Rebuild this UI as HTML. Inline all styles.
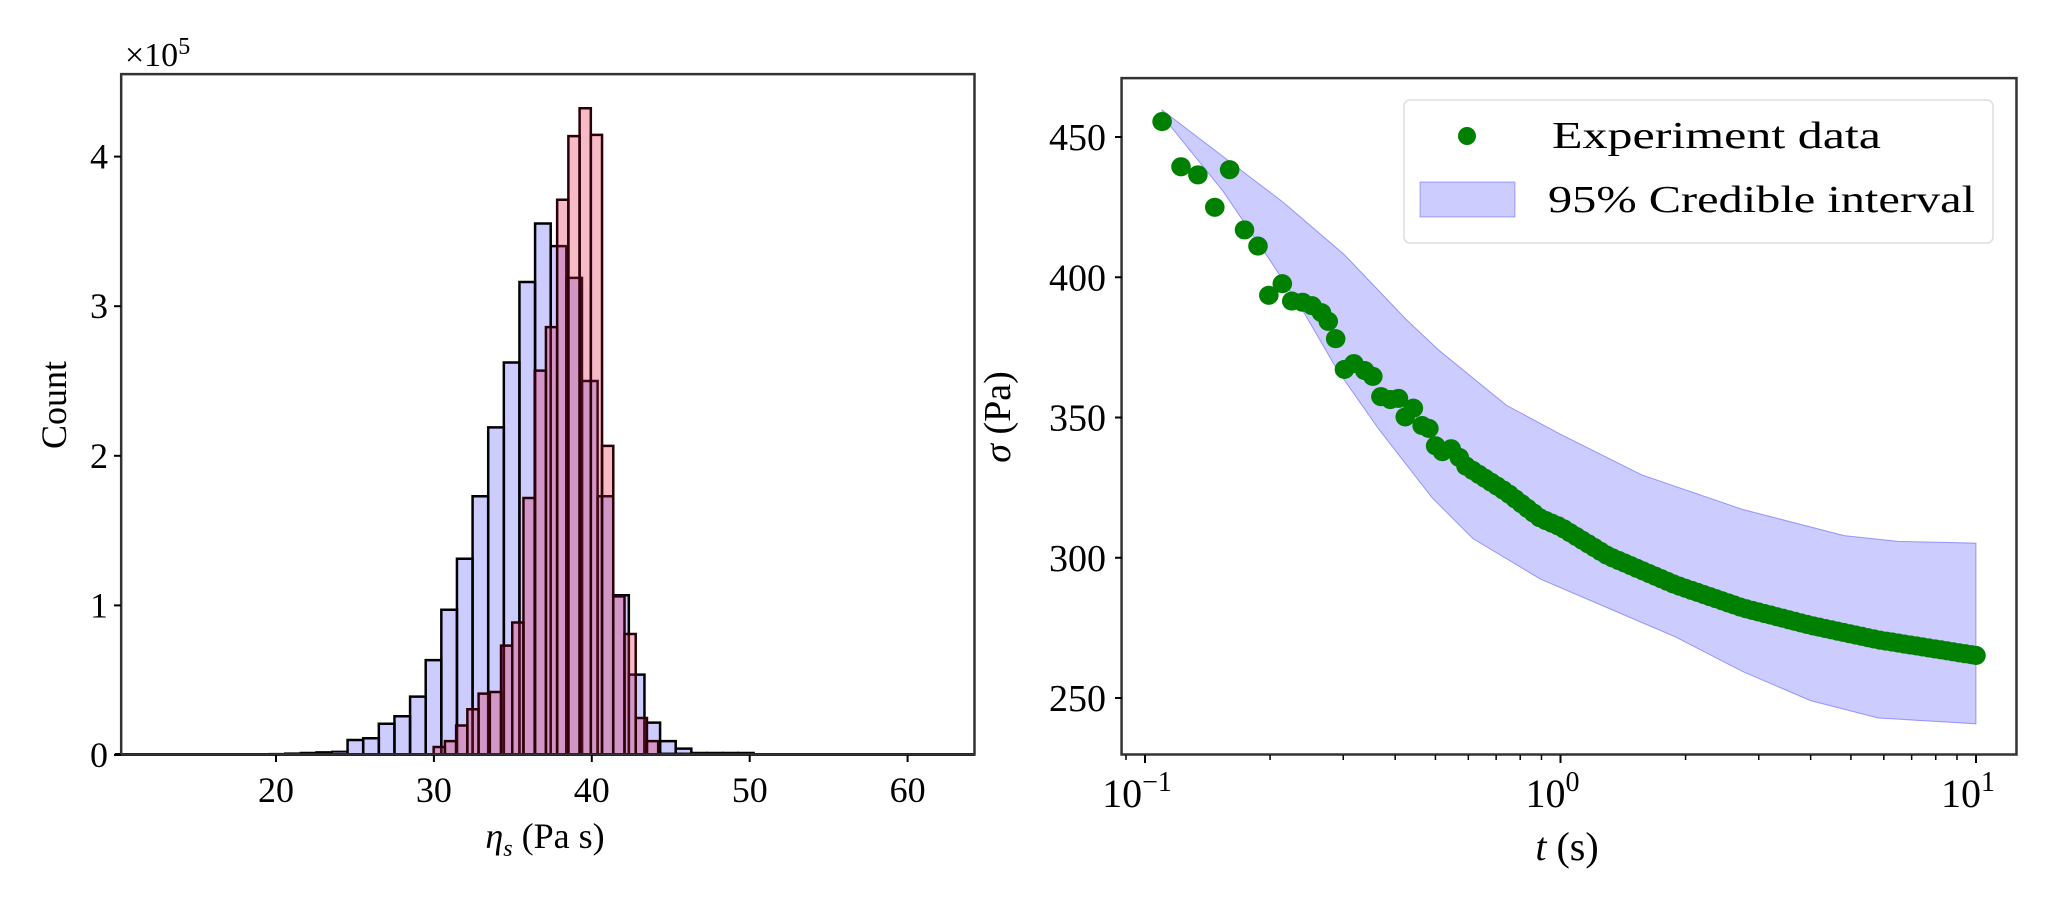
<!DOCTYPE html>
<html><head><meta charset="utf-8"><style>
html,body{margin:0;padding:0;background:#fff;}
svg{display:block;font-family:"Liberation Serif",serif;}
</style></head><body>
<svg id="s" width="2059" height="908" viewBox="0 0 2059 908" xmlns="http://www.w3.org/2000/svg">
<rect width="2059" height="908" fill="#fff"/>
<g id="L" transform="scale(0.63776,0.57903)"></g>
<g id="R" transform="translate(1000,0) scale(0.67540,0.57903)"></g>
<g id="T"></g>
</svg>
<script>
var NS="http://www.w3.org/2000/svg";
function el(p,t,a,txt){var e=document.createElementNS(NS,t);for(var k in a)e.setAttribute(k,a[k]);if(txt!=null)e.textContent=txt;p.appendChild(e);return e;}
var L=document.getElementById('L'),R=document.getElementById('R'),T=document.getElementById('T');
var base=1303;
var blue=[1278,1275,1250,1237,1203,1140,1053,965,857,738,626,487,386,425,480,658,857,1028,1165,1248,1280,1293];
var bx0=545,bw=24.5;
for(var i=1;i<=5;i++){el(L,'rect',{x:bx0-i*bw,y:base-Math.max(1,6-i),width:bw,height:Math.max(1,6-i),fill:'#ccccfc',stroke:'#000','stroke-width':2,'vector-effect':'non-scaling-stroke'});}
for(var i=0;i<blue.length;i++){el(L,'rect',{x:bx0+i*bw,y:blue[i],width:bw,height:base-blue[i],fill:'rgba(0,0,255,0.2)',stroke:'#000','stroke-width':2.5,'vector-effect':'non-scaling-stroke'});}
for(var i=0;i<4;i++){el(L,'rect',{x:bx0+(blue.length+i)*bw,y:base-3,width:bw,height:3,fill:'#ccccfc',stroke:'#000','stroke-width':2,'vector-effect':'non-scaling-stroke'});}
var red=[1290,1280,1253,1225,1198,1195,1115,1075,860,640,565,345,235,187,233,770,1030,1095,1240,1280];
var rx0=680,rw=17.6;
for(var i=0;i<red.length;i++){el(L,'rect',{x:rx0+i*rw,y:red[i],width:rw,height:base-red[i],fill:'rgba(225,30,70,0.3)',stroke:'#2a0008','stroke-width':2.5,'vector-effect':'non-scaling-stroke'});}
for(var i=0;i<4;i++){el(L,'rect',{x:rx0+(red.length+i)*rw,y:base-2,width:rw,height:2,fill:'#fcc',stroke:'#000','stroke-width':1.5,'vector-effect':'non-scaling-stroke'});}
el(L,'line',{x1:180,y1:base,x2:1528,y2:base,stroke:'#000','stroke-width':3,'vector-effect':'non-scaling-stroke'});
el(L,'rect',{x:190,y:128,width:1338,height:1175,fill:'none',stroke:'#333','stroke-width':2.5,'vector-effect':'non-scaling-stroke'});
for(var v=0;v<=4;v++){var y=755-v*149.6;el(T,'line',{x1:114,y1:y,x2:121,y2:y,stroke:'#000','stroke-width':2});el(T,'text',{x:108,y:y+12,'font-size':36,'text-anchor':'end'},String(v));}
for(var v=20;v<=60;v+=10){var x=276+(v-20)*15.79;el(T,'line',{x1:x,y1:755,x2:x,y2:762,stroke:'#000','stroke-width':2});el(T,'text',{x:x,y:802,'font-size':36,'text-anchor':'middle'},String(v));}
el(T,'text',{x:0,y:0,'font-size':36,'text-anchor':'middle',transform:'translate(66,405) rotate(-90)'},'Count');
var t1=el(T,'text',{x:125,y:66,'font-size':34});t1.innerHTML='×10<tspan dy="-12" font-size="24">5</tspan>';
var t2=el(T,'text',{x:545,y:848,'font-size':36,'text-anchor':'middle'});t2.innerHTML='<tspan font-style="italic">η</tspan><tspan font-style="italic" font-size="24" dy="8">s</tspan><tspan dy="-8"> (Pa s)</tspan>';
var up=[[240,190],[330,270],[420,350],[510,440],[600,550],[650,605],[750,700],[830,750],[950,820],[1100,880],[1250,925],[1330,935],[1445,938]];
var lo=[[240,200],[330,330],[400,450],[450,540],[500,640],[560,740],[640,860],[700,930],[800,1000],[900,1050],[1000,1100],[1100,1160],[1200,1210],[1300,1240],[1445,1250]];
var d='M'+up.map(function(p){return p.join(',')}).join(' L')+' L'+lo.slice().reverse().map(function(p){return p.join(',')}).join(' L')+' Z';
el(R,'path',{d:d,fill:'rgba(0,0,255,0.2)',stroke:'rgba(0,0,255,0.35)','stroke-width':1,'vector-effect':'non-scaling-stroke'});
var pts=[[240,210],[268,288],[293,302],[318,358],[340,293],[362,397],[382,425],[398,510],[418,490],[432,520],[448,522],[462,528],[476,540],[486,555],[497,585],[510,638],[524,628],[540,640],[552,650],[564,685],[578,690],[590,688],[600,720],[612,705],[625,735],[635,740],[645,770],[655,780],[668,775],[680,790],[690,805]];
var cur=[[690,805],[750,850],[800,895],[830,910],[900,960],[1000,1010],[1100,1050],[1200,1080],[1300,1105],[1445,1132]];
function interp(x){for(var i=0;i<cur.length-1;i++){if(x<=cur[i+1][0]){var f=(x-cur[i][0])/(cur[i+1][0]-cur[i][0]);return cur[i][1]+f*(cur[i+1][1]-cur[i][1]);}}return cur[cur.length-1][1];}
for(var x=700;x<=1445;x+=9){pts.push([x,interp(x)]);}
pts.push([1445,1132]);
pts.forEach(function(p){el(R,'ellipse',{cx:p[0],cy:p[1],rx:14.5,ry:16.5,fill:'#008000'});});
el(R,'rect',{x:180,y:135,width:1325,height:1168,fill:'none',stroke:'#333','stroke-width':2.5,'vector-effect':'non-scaling-stroke'});
for(var v=250;v<=450;v+=50){var y=698-(v-250)*2.805;el(T,'line',{x1:1115,y1:y,x2:1122,y2:y,stroke:'#000','stroke-width':2});el(T,'text',{x:1106,y:y+13,'font-size':38,'text-anchor':'end'},String(v));}
var dec=415.5,x10=1145;
for(var e=-1;e<=1;e++){var x=x10+(e+1)*dec;el(T,'line',{x1:x,y1:755,x2:x,y2:763,stroke:'#000','stroke-width':2});var tt=el(T,'text',{x:x-8,y:807,'font-size':40,'text-anchor':'middle'});tt.innerHTML='10<tspan dy="-16" font-size="28">'+(e<0?'−1':String(e))+'</tspan>';
if(e<1)for(var m=2;m<=9;m++){var xm=x+Math.log10(m)*dec;el(T,'line',{x1:xm,y1:755,x2:xm,y2:760,stroke:'#000','stroke-width':1.5});}}
var xm9=x10-dec+Math.log10(9)*dec;el(T,'line',{x1:xm9,y1:755,x2:xm9,y2:760,stroke:'#000','stroke-width':1.5});
var t3=el(T,'text',{x:1567,y:860,'font-size':40,'text-anchor':'middle'});t3.innerHTML='<tspan font-style="italic">t</tspan> (s)';
var t4=el(T,'text',{x:0,y:0,'font-size':38,'text-anchor':'middle',transform:'translate(1010,417) rotate(-90)'});t4.innerHTML='<tspan font-style="italic">σ</tspan> (Pa)';
el(T,'rect',{x:1404,y:100,width:589,height:143,rx:6,fill:'#fff','fill-opacity':0.85,stroke:'#ddd','stroke-width':1.5});
el(T,'circle',{cx:1467,cy:136,r:9,fill:'#008000'});
el(T,'text',{x:1552,y:148,'font-size':38,textLength:329,lengthAdjust:'spacingAndGlyphs'},'Experiment data');
el(T,'rect',{x:1420,y:182,width:95,height:35,fill:'rgba(0,0,255,0.2)',stroke:'rgba(0,0,255,0.3)'});
el(T,'text',{x:1548,y:212,'font-size':38,textLength:427,lengthAdjust:'spacingAndGlyphs'},'95% Credible interval');
</script>
</body></html>
